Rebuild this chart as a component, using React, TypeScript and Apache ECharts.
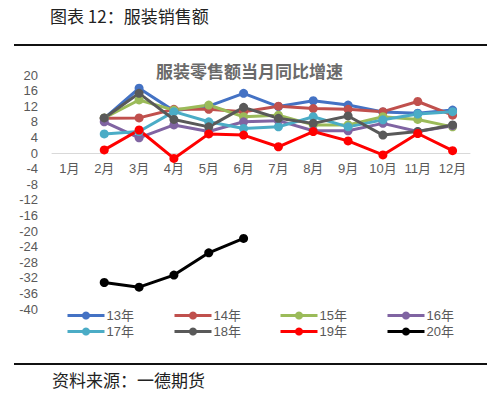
import React, { useEffect, useRef } from "react";
import * as echarts from "echarts";

const months = ["1月", "2月", "3月", "4月", "5月", "6月", "7月", "8月", "9月", "10月", "11月", "12月"];
const yearNames = ["13年", "14年", "15年", "16年", "17年", "18年", "19年", "20年"];
const colors = ["#4472C4", "#C0504D", "#9BBB59", "#8064A2", "#4BACC6", "#595959", "#FF0000", "#000000"];

const y13 = [null, 8.9, 16.6, 10.8, 12.0, 15.3, 11.9, 13.4, 12.3, 10.5, 10.2, 11.0];
const y14 = [null, 8.9, 9.0, 11.2, 11.2, 10.6, 12.0, 11.4, 11.2, 10.6, 13.2, 9.7];
const y15 = [null, 9.0, 13.6, 11.0, 12.3, 9.3, 9.7, 7.2, 7.2, 9.3, 8.6, 6.7];
const y16 = [null, 8.0, 3.9, 7.2, 5.5, 8.0, 8.3, 5.7, 5.7, 7.6, 5.5, 7.0];
const y17 = [null, 4.9, 5.5, 10.6, 8.0, 6.3, 6.7, 9.3, 6.7, 8.5, 10.0, 10.6];
const y18 = [null, 9.0, 15.3, 8.6, 6.7, 11.7, 8.9, 7.6, 9.5, 4.6, 5.5, 7.2];
const y19 = [null, 0.8, 5.9, -1.4, 4.9, 4.6, 1.6, 5.5, 3.1, -0.5, 5.0, 0.6];
const y20 = [null, -33.2, -34.4, -31.3, -25.6, -21.9, null, null, null, null, null, null];

const allSeries = [y13, y14, y15, y16, y17, y18, y19, y20];

const legendCols = [66, 173, 279, 386];
const legendRows = [309, 325];

export default function App() {
  const ref = useRef<HTMLDivElement>(null);
  useEffect(() => {
    if (!ref.current) return;
    const chart = echarts.init(ref.current, undefined, { renderer: "svg" });
    const legends = yearNames.map((name, i) => ({
      data: [name],
      left: legendCols[i % 4],
      top: legendRows[Math.floor(i / 4)],
      itemWidth: 37,
      itemHeight: 10,
      itemGap: 2,
      padding: 0,
      lineStyle: { width: 3 },
      textStyle: { color: "#595959", fontSize: 13, fontFamily: "Liberation Sans, Noto Sans CJK SC", padding: [0, 0, 0, -3] },
    }));
    chart.setOption({
      animation: false,
      backgroundColor: "#ffffff",
      graphic: [
        {
          type: "text",
          left: 50,
          top: 7,
          style: { text: "图表 12：服装销售额", fontSize: 17, fill: "#222", fontFamily: "Noto Sans CJK SC" },
        },
        { type: "line", shape: { x1: 14, y1: 45, x2: 487, y2: 45 }, style: { stroke: "#111", lineWidth: 2 } },
        {
          type: "text",
          left: 156,
          top: 62,
          style: { text: "服装零售额当月同比增速", fontSize: 17, fontWeight: "bold", fill: "#6a6a6a", fontFamily: "Noto Sans CJK SC" },
        },
        { type: "line", shape: { x1: 14, y1: 364, x2: 487, y2: 364 }, style: { stroke: "#111", lineWidth: 2 } },
        {
          type: "text",
          left: 52,
          top: 371,
          style: { text: "资料来源：一德期货", fontSize: 17, fill: "#222", fontFamily: "Noto Sans CJK SC" },
        },
      ],
      legend: legends,
      grid: { left: 52, right: 30, top: 75, bottom: 87, containLabel: false },
      xAxis: {
        type: "category",
        data: months,
        boundaryGap: true,
        offset: -156,
        axisLine: { onZero: false, lineStyle: { color: "#d9d9d9", width: 1 } },
        axisTick: { show: false },
        axisLabel: { interval: 0, color: "#595959", fontSize: 13, margin: 9, fontFamily: "Liberation Sans, Noto Sans CJK SC" },
      },
      yAxis: {
        type: "value",
        min: -40,
        max: 20,
        interval: 4,
        splitLine: { show: false },
        axisLine: { show: false },
        axisTick: { show: false },
        axisLabel: { color: "#595959", fontSize: 13, margin: 14, fontFamily: "Liberation Sans" },
      },
      series: allSeries.map((d, i) => ({
        name: yearNames[i],
        type: "line",
        data: d,
        connectNulls: false,
        symbol: "circle",
        symbolSize: 9,
        lineStyle: { width: 3, color: colors[i] },
        itemStyle: { color: colors[i] },
      })),
    });
    return () => chart.dispose();
  }, []);
  return <div ref={ref} style={{ position: "fixed", left: 0, top: 0, width: 500, height: 396 }} />;
}
